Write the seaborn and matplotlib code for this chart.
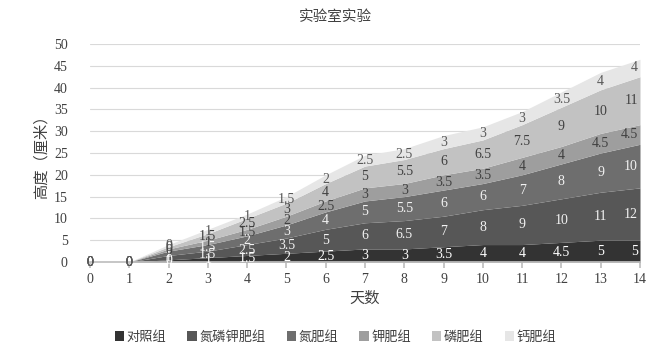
import matplotlib
matplotlib.use("Agg")
import matplotlib.pyplot as plt
import seaborn as sns

# Chart data: plant height (cm) per day, stacked by group
days = list(range(15))
groups = ["对照组", "氮磷钾肥组", "氮肥组", "钾肥组", "磷肥组", "钙肥组"]
control = [0, 0, 0.5, 1, 1.5, 2, 2.5, 3, 3, 3.5, 4, 4, 4.5, 5, 5]
npk = [0, 0, 1, 1.5, 2.5, 3.5, 5, 6, 6.5, 7, 8, 9, 10, 11, 12]
nitrogen = [0, 0, 1, 1.5, 2, 3, 4, 5, 5.5, 6, 6, 7, 8, 9, 10]
potassium = [0, 0, 0.5, 1, 1.5, 2, 2.5, 3, 3, 3.5, 3.5, 4, 4, 4.5, 4.5]
phosphorus = [0, 0, 0.5, 1.5, 2.5, 3, 4, 5, 5.5, 6, 6.5, 7.5, 9, 10, 11]
calcium = [0, 0, 0.5, 1, 1, 1.5, 2, 2.5, 2.5, 3, 3, 3, 3.5, 4, 4]
series = [control, npk, nitrogen, potassium, phosphorus, calcium]

colors = ["#333333", "#575757", "#6e6e6e", "#9e9e9e", "#c2c2c2", "#e6e6e6"]
label_colors = ["#ffffff", "#f2f2f2", "#f2f2f2", "#404040", "#404040", "#595959"]

sns.set_theme(style="white")
plt.rcParams["font.family"] = ["Liberation Serif", "Noto Sans CJK SC", "DejaVu Sans"]

fig = plt.figure(figsize=(6.71, 3.53), dpi=100)
ax = fig.add_axes([90 / 671, 1 - 262 / 353, 550 / 671, 218 / 353])

ax.stackplot(days, *series, colors=sns.color_palette(colors), labels=groups, linewidth=0)

# data labels centered in each band (values below 1 were shown as 0)
base = [0.0] * len(days)
for s, col in zip(series, label_colors):
    for i, v in enumerate(s):
        y = base[i] + v / 2
        txt = "0" if v < 1 else f"{v:g}"
        ha = "right" if i == len(days) - 1 else "center"
        xoff = 0.05 if ha == "right" else 0
        ax.text(days[i] - xoff, y, txt, ha=ha, va="center", fontsize=10,
                color=col if v > 0 else "#595959")
        base[i] += v

ax.set_xlim(0, 14)
ax.set_ylim(0, 50)
ax.set_yticks(range(0, 51, 5))
ax.set_xticks(days)
ax.yaxis.grid(True, color="#d9d9d9", linewidth=0.8)
ax.set_axisbelow(True)
for side in ["left", "right", "top"]:
    ax.spines[side].set_visible(False)
ax.spines["bottom"].set_color("#bfbfbf")
ax.tick_params(axis="x", bottom=True, length=4, color="#bfbfbf", labelsize=10,
               labelcolor="#404040", pad=4)
ax.tick_params(axis="y", left=False, labelsize=10, labelcolor="#404040", pad=10)

ax.set_xlabel("天数", fontsize=11, color="#404040", labelpad=4)
ax.set_ylabel("高度（厘米）", fontsize=11, color="#404040", labelpad=4)
fig.suptitle("实验室实验", y=0.97, fontsize=10.5, color="#404040")

fig.legend(loc="center", bbox_to_anchor=(0.5, 0.045), ncol=6, frameon=False,
           fontsize=9.5, handlelength=0.7, handleheight=0.7, handletextpad=0.2,
           columnspacing=1.6, labelcolor="#404040")

fig.savefig("out.png", dpi=100)
